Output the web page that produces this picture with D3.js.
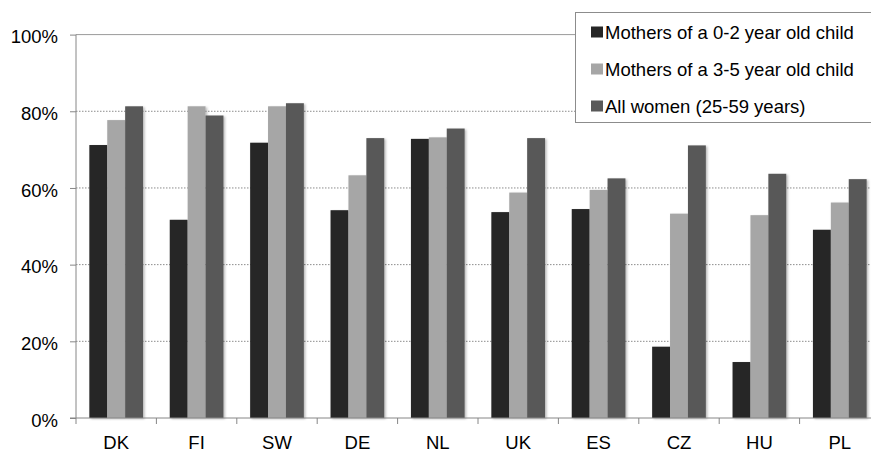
<!DOCTYPE html>
<html>
<head>
<meta charset="utf-8">
<script src="https://cdn.jsdelivr.net/npm/d3@7"></script>
<style>
  html, body { margin: 0; padding: 0; background: #fff; }
  svg { display: block; }
  text { font-family: "Liberation Sans", Arial, sans-serif; fill: #000; }
</style>
</head>
<body>
<svg id="chart" width="871" height="452"></svg>
<script>
const categories = ["DK", "FI", "SW", "DE", "NL", "UK", "ES", "CZ", "HU", "PL"];
const seriesNames = ["Mothers of a 0-2 year old child", "Mothers of a 3-5 year old child", "All women (25-59 years)"];
const mothers02 = [71.2, 51.7, 71.8, 54.2, 72.8, 53.7, 54.5, 18.6, 14.6, 49.1];
const mothers35 = [77.7, 81.3, 81.3, 63.3, 73.2, 58.8, 59.5, 53.3, 52.9, 56.2];
const allWomen  = [81.3, 78.9, 82.1, 73.0, 75.5, 73.0, 62.5, 71.1, 63.7, 62.3];
const seriesColors = ["#262626", "#a6a6a6", "#595959"];
const yTicks = [0, 20, 40, 60, 80, 100];

const seriesValues = [mothers02, mothers35, allWomen];
const data = categories.map((c, i) => ({
  cat: c,
  vals: seriesValues.map((arr, s) => ({ s, v: arr[i] }))
}));

const svg = d3.select("#chart");
const mLeft = 76, mRight = 880, mTop = 34.6, mBottom = 418;

const x0 = d3.scaleBand().domain(categories).range([mLeft, mRight]).padding(0);
const bw = x0.bandwidth();
const x1 = d3.scaleBand().domain(d3.range(seriesNames.length)).range([bw * 0.166, bw * 0.834]).padding(0);
const y = d3.scaleLinear().domain([0, 100]).range([mBottom, mTop]);

const defs = svg.append("defs");
const f = defs.append("filter").attr("id", "shadow").attr("x", "-20%").attr("y", "-5%").attr("width", "150%").attr("height", "115%");
f.append("feDropShadow").attr("dx", 1.5).attr("dy", 1).attr("stdDeviation", 1.2).attr("flood-color", "#000").attr("flood-opacity", 0.28);

// gridlines
svg.append("g").selectAll("line")
  .data(yTicks.filter(t => t > 0 && t < 100))
  .join("line")
  .attr("x1", mLeft).attr("x2", mRight)
  .attr("y1", d => y(d)).attr("y2", d => y(d))
  .attr("stroke", "#8c8c8c").attr("stroke-width", 1)
  .attr("stroke-dasharray", "1.5,1.5");
// top line at 100%
svg.append("line")
  .attr("x1", mLeft).attr("x2", mRight)
  .attr("y1", y(100)).attr("y2", y(100))
  .attr("stroke", "#9a9a9a").attr("stroke-width", 1);

// bars
const groups = svg.append("g").selectAll("g")
  .data(data).join("g")
  .attr("transform", d => `translate(${x0(d.cat)},0)`);
groups.selectAll("rect")
  .data(d => d.vals).join("rect")
  .attr("x", d => x1(d.s))
  .attr("width", x1.bandwidth())
  .attr("y", d => y(d.v))
  .attr("height", d => y(0) - y(d.v))
  .attr("fill", d => seriesColors[d.s])
  .attr("filter", "url(#shadow)");

// y axis
const yAxis = d3.axisLeft(y).tickValues(yTicks).tickFormat(d => d + "%").tickSize(6).tickPadding(12);
const gy = svg.append("g").attr("transform", `translate(${mLeft},0)`).call(yAxis);
gy.select(".domain").attr("stroke", "#868686").attr("d", `M0,${y(100)}V${y(0)}`);
gy.selectAll(".tick line").attr("stroke", "#868686");
gy.selectAll(".tick text").attr("font-size", "18.5px").attr("fill", "#000").attr("dy", "0.45em")
  .attr("font-family", '"Liberation Sans", Arial, sans-serif');

// x axis
const gx = svg.append("g").attr("transform", `translate(0,${mBottom})`);
gx.append("line").attr("x1", mLeft - 6).attr("x2", mRight).attr("y1", 0).attr("y2", 0).attr("stroke", "#868686");
gx.selectAll("line.tk")
  .data(categories.concat(["__end"]))
  .join("line").attr("class", "tk")
  .attr("x1", (d, i) => i < categories.length ? x0(d) : mRight)
  .attr("x2", (d, i) => i < categories.length ? x0(d) : mRight)
  .attr("y1", 0).attr("y2", 6).attr("stroke", "#868686");
gx.selectAll("text")
  .data(categories).join("text")
  .attr("x", d => x0(d) + bw / 2)
  .attr("y", 31)
  .attr("text-anchor", "middle")
  .attr("font-size", "18.5px")
  .text(d => d);

// legend
const lg = svg.append("g");
lg.append("rect").attr("x", 575.5).attr("y", 12.5).attr("width", 320).attr("height", 110)
  .attr("fill", "#fff").attr("stroke", "#8c8c8c").attr("stroke-width", 1);
const rows = lg.selectAll("g.row").data(seriesNames).join("g").attr("class", "row")
  .attr("transform", (d, i) => `translate(591,${32 + i * 37})`);
rows.append("rect").attr("x", 0).attr("y", -5.5).attr("width", 12).attr("height", 11)
  .attr("fill", (d, i) => seriesColors[i]);
rows.append("text").attr("x", 14).attr("y", 0).attr("dy", "0.36em")
  .attr("font-size", "18.5px").text(d => d);
</script>
</body>
</html>
